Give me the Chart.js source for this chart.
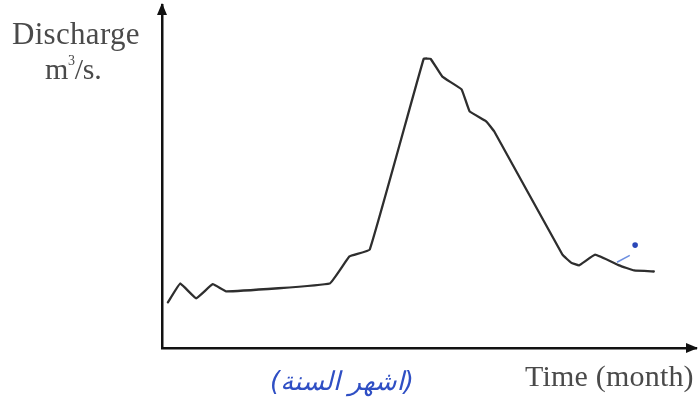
<!DOCTYPE html>
<html>
<head>
<meta charset="utf-8">
<script src="https://cdn.jsdelivr.net/npm/chart.js@4/dist/chart.umd.min.js"></script>
<style>
  html, body { margin: 0; padding: 0; background: #fff; }
  #wrap { position: relative; width: 700px; height: 415px; overflow: hidden; }
  canvas { position: absolute; left: 0; top: 0; }
  .lbl { position: absolute; font-family: "Liberation Serif", "DejaVu Serif", serif; color: #4a4a4a; white-space: nowrap; line-height: normal; }
  #ylab1 { left: 12px; top: 16px; font-size: 31px; letter-spacing: 0.3px; }
  #ylab2 { left: 45px; top: 52px; font-size: 30px; letter-spacing: -0.3px; }
  #ylab2 sup { font-size: 14px; vertical-align: 14px; }
  #xlab { left: 525px; top: 359px; font-size: 30px; letter-spacing: 0.2px; }
  #arab { left: 270px; top: 366px; font-size: 26px; color: #2f4fc4; font-family: "DejaVu Sans", sans-serif; font-style: italic; direction: rtl; }
</style>
</head>
<body>
<div id="wrap">
  <canvas id="c" width="700" height="415"></canvas>
  <div class="lbl" id="ylab1">Discharge</div>
  <div class="lbl" id="ylab2">m<sup>3</sup>/s.</div>
  <div class="lbl" id="arab">(اشهر السنة)</div>
  <div class="lbl" id="xlab">Time (month)</div>
</div>
<script>
// Time (arbitrary month units along the axis)
const timeValues = [1.1, 3.4, 6.4, 9.5, 12.1, 31.4, 35.1, 38.9, 49.0, 50.3, 52.5, 56.1, 57.6, 60.7, 62.2, 75.0, 76.6, 78.1, 81.1, 85.6, 88.4, 92.1];
// Discharge (arbitrary m3/s units)
const dischargeValues = [13.3, 18.8, 14.5, 18.6, 16.5, 18.8, 26.7, 28.7, 84.3, 84.3, 79.1, 75.4, 69.0, 66.1, 63.2, 27.2, 24.9, 24.1, 27.2, 24.1, 22.6, 22.3];
// handwritten blue marks
const markTime = [88.6];
const markValue = [30.0];
const markStrokeTime = [85.2, 87.6];
const markStrokeValue = [25.0, 27.0];

const axisMin = 0, axisMax = 100;

const arrowPlugin = {
  id: 'arrows',
  afterDraw(chart) {
    const { ctx, chartArea: a } = chart;
    ctx.save();
    ctx.fillStyle = '#111';
    ctx.beginPath();
    ctx.moveTo(a.left, a.top - 2);
    ctx.lineTo(a.left - 5, a.top + 10);
    ctx.lineTo(a.left + 5, a.top + 10);
    ctx.closePath();
    ctx.fill();
    ctx.beginPath();
    ctx.moveTo(a.right + 2, a.bottom);
    ctx.lineTo(a.right - 10, a.bottom - 5);
    ctx.lineTo(a.right - 10, a.bottom + 5);
    ctx.closePath();
    ctx.fill();
    ctx.restore();
  }
};

new Chart(document.getElementById('c'), {
  type: 'scatter',
  data: {
    datasets: [
      {
        data: timeValues.map((t, i) => ({ x: t, y: dischargeValues[i] })),
        showLine: true,
        borderColor: '#2e2e2e',
        borderWidth: 2.3,
        pointRadius: 0,
        tension: 0.08,
        borderJoinStyle: 'round',
        borderCapStyle: 'round'
      },
      {
        data: markStrokeTime.map((t, i) => ({ x: t, y: markStrokeValue[i] })),
        showLine: true,
        borderColor: '#6d8fe0',
        borderWidth: 1.5,
        pointRadius: 0
      },
      {
        data: markTime.map((t, i) => ({ x: t, y: markValue[i] })),
        pointRadius: 2.8,
        pointBackgroundColor: '#2a47b8',
        pointBorderWidth: 0
      }
    ]
  },
  options: {
    responsive: false,
    animation: false,
    layout: { padding: { left: 162, right: 3, top: 5, bottom: 67 } },
    plugins: { legend: { display: false }, tooltip: { enabled: false } },
    scales: {
      x: {
        type: 'linear', min: axisMin, max: axisMax,
        ticks: { display: false },
        grid: { display: false, drawTicks: false },
        border: { display: true, color: '#111', width: 2.5 }
      },
      y: {
        type: 'linear', min: axisMin, max: axisMax,
        ticks: { display: false },
        grid: { display: false, drawTicks: false },
        border: { display: true, color: '#111', width: 2.5 }
      }
    }
  },
  plugins: [arrowPlugin]
});
</script>
</body>
</html>
